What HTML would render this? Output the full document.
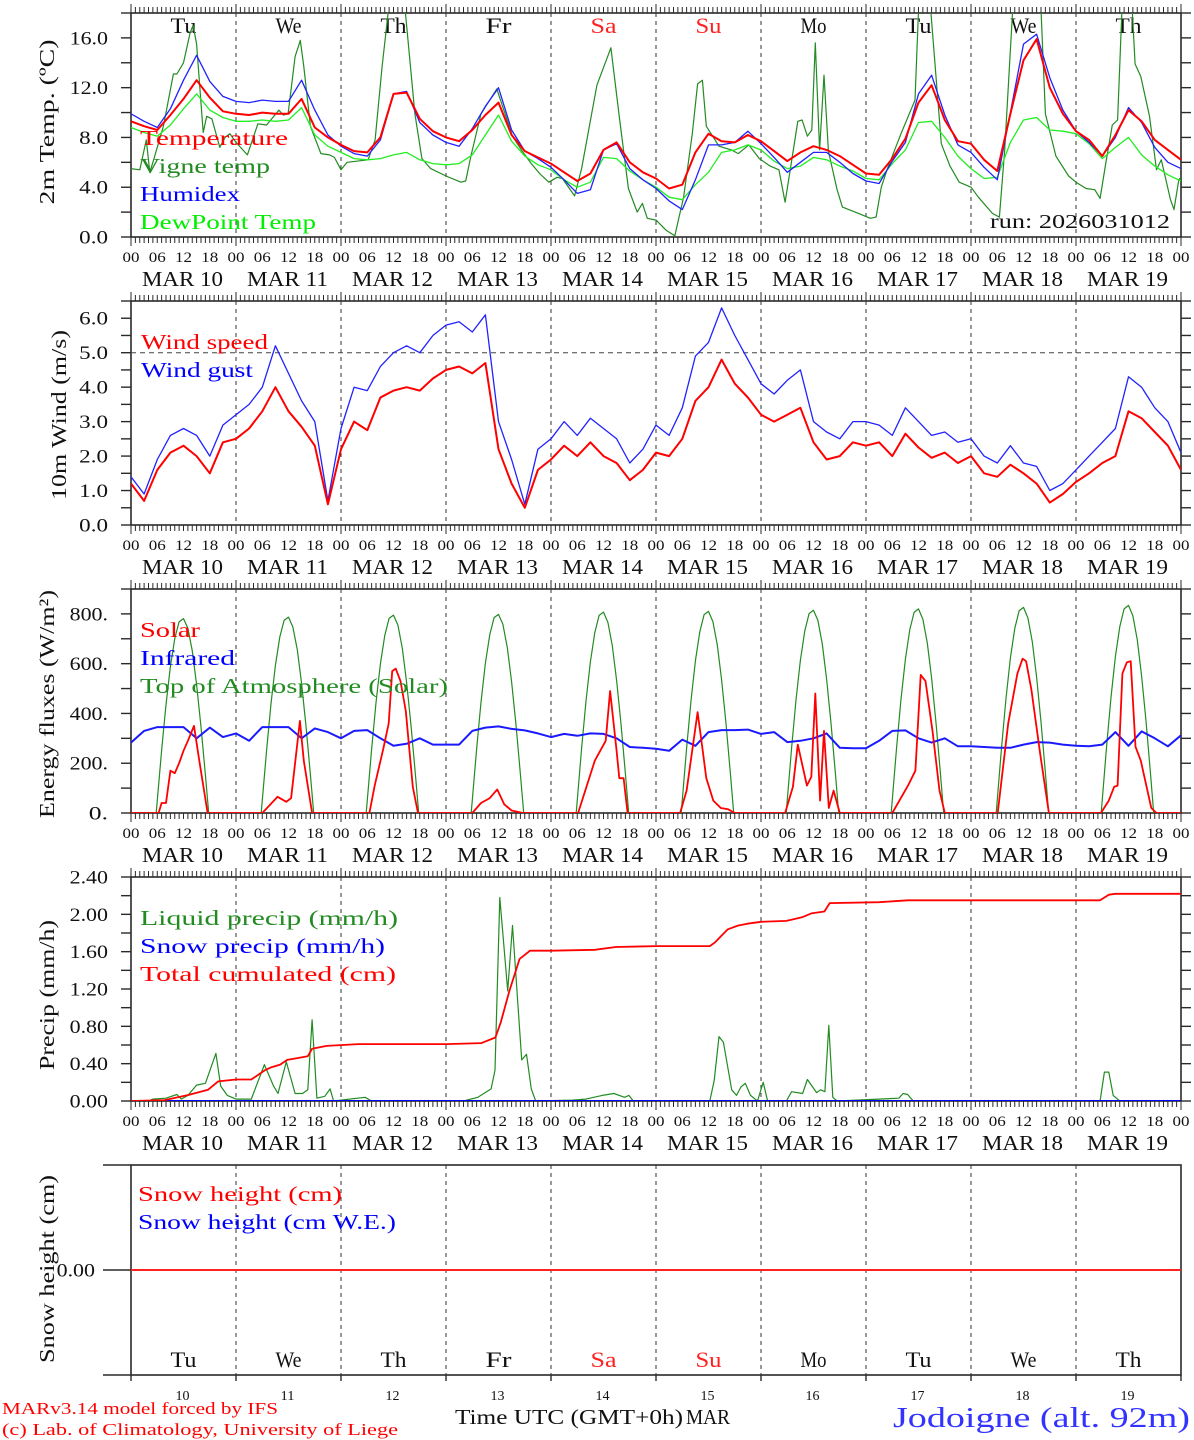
<!DOCTYPE html>
<html><head><meta charset="utf-8"><title>MAR forecast Jodoigne</title>
<style>
html,body{margin:0;padding:0;background:#fff;}
svg{display:block;font-family:"Liberation Serif","DejaVu Serif",serif;}
</style></head>
<body>
<svg id="chart" xmlns="http://www.w3.org/2000/svg" width="1194" height="1440" viewBox="0 0 1194 1440">
<rect x="0" y="0" width="1194" height="1440" fill="#fff"/>
<defs>
<clipPath id="clip-p1"><rect x="131" y="13" width="1050" height="224"/></clipPath>
<clipPath id="clip-p2"><rect x="131" y="301" width="1050" height="224"/></clipPath>
<clipPath id="clip-p3"><rect x="131" y="589" width="1050" height="224"/></clipPath>
<clipPath id="clip-p4"><rect x="131" y="877" width="1050" height="224"/></clipPath>
<clipPath id="clip-p5"><rect x="131" y="1165" width="1050" height="210"/></clipPath>
</defs>
<g id="layer-grid"></g>
<g id="layer-series"></g>
<g id="layer-text">
<text x="140" y="145" fill="#ff0000" font-size="21" textLength="148" lengthAdjust="spacingAndGlyphs">Temperature</text>
<text x="140" y="173" fill="#228b22" font-size="21" textLength="130" lengthAdjust="spacingAndGlyphs">Vigne temp</text>
<text x="140" y="201" fill="#0000ff" font-size="21" textLength="100" lengthAdjust="spacingAndGlyphs">Humidex</text>
<text x="140" y="229" fill="#00ee00" font-size="21" textLength="176" lengthAdjust="spacingAndGlyphs">DewPoint Temp</text>
<text x="990" y="228" fill="#111" font-size="20" textLength="180" lengthAdjust="spacingAndGlyphs">run: 2026031012</text>
<text x="141" y="349" fill="#ff0000" font-size="21" textLength="127" lengthAdjust="spacingAndGlyphs">Wind speed</text>
<text x="141" y="377" fill="#0000ff" font-size="21" textLength="112" lengthAdjust="spacingAndGlyphs">Wind gust</text>
<text x="140" y="637" fill="#ff0000" font-size="21" textLength="60" lengthAdjust="spacingAndGlyphs">Solar</text>
<text x="140" y="665" fill="#0000ff" font-size="21" textLength="95" lengthAdjust="spacingAndGlyphs">Infrared</text>
<text x="140" y="693" fill="#228b22" font-size="21" textLength="308" lengthAdjust="spacingAndGlyphs">Top of Atmosphere (Solar)</text>
<text x="140" y="925" fill="#228b22" font-size="21" textLength="258" lengthAdjust="spacingAndGlyphs">Liquid precip (mm/h)</text>
<text x="140" y="953" fill="#0000ff" font-size="21" textLength="245" lengthAdjust="spacingAndGlyphs">Snow precip (mm/h)</text>
<text x="140" y="981" fill="#ff0000" font-size="21" textLength="256" lengthAdjust="spacingAndGlyphs">Total cumulated (cm)</text>
<text x="138" y="1201" fill="#ff0000" font-size="21" textLength="204" lengthAdjust="spacingAndGlyphs">Snow height (cm)</text>
<text x="138" y="1229" fill="#0000ff" font-size="21" textLength="258" lengthAdjust="spacingAndGlyphs">Snow height (cm W.E.)</text>
<text transform="translate(54,122) rotate(-90)" text-anchor="middle" fill="#111" font-size="21" textLength="165" lengthAdjust="spacingAndGlyphs">2m Temp. (ºC)</text>
<text transform="translate(66,415) rotate(-90)" text-anchor="middle" fill="#111" font-size="21" textLength="170" lengthAdjust="spacingAndGlyphs">10m Wind (m/s)</text>
<text transform="translate(54,704) rotate(-90)" text-anchor="middle" fill="#111" font-size="21" textLength="228" lengthAdjust="spacingAndGlyphs">Energy fluxes (W/m²)</text>
<text transform="translate(54,995) rotate(-90)" text-anchor="middle" fill="#111" font-size="21" textLength="150" lengthAdjust="spacingAndGlyphs">Precip (mm/h)</text>
<text transform="translate(54,1269) rotate(-90)" text-anchor="middle" fill="#111" font-size="21" textLength="188" lengthAdjust="spacingAndGlyphs">Snow height (cm)</text>
<text x="2" y="1414" fill="#ff0000" font-size="17" textLength="276" lengthAdjust="spacingAndGlyphs">MARv3.14 model forced by IFS</text>
<text x="2" y="1435" fill="#ff0000" font-size="17" textLength="396" lengthAdjust="spacingAndGlyphs">(c) Lab. of Climatology, University of Liege</text>
<text x="455" y="1424" fill="#111" font-size="21" textLength="228" lengthAdjust="spacingAndGlyphs">Time UTC (GMT+0h)</text>
<text x="686" y="1424" fill="#111" font-size="21" textLength="44" lengthAdjust="spacingAndGlyphs">MAR</text>
<text x="893" y="1427" fill="#3333ff" font-size="28" textLength="297" lengthAdjust="spacingAndGlyphs">Jodoigne (alt. 92m)</text>
</g>
</svg>
<script>
// ---------- data ----------
const dayNames = ["Tu","We","Th","Fr","Sa","Su","Mo","Tu","We","Th"];
const dayNumbers = ["10","11","12","13","14","15","16","17","18","19"];
const hourTickLabels = ["00","06","12","18"];
const hours3 = [];
for (let h = 0; h <= 240; h += 3) hours3.push(h);

const tempVals = [9.3,8.9,8.6,9.8,11.1,12.6,11.2,10.1, 9.9,9.8,10.0,9.9,9.9,11.1,8.8,8.0, 7.4,6.9,6.8,8.0,11.5,11.6,9.5,8.5, 8.0,7.7,8.6,9.8,10.8,8.2,6.9,6.4, 5.9,5.2,4.5,5.1,7.0,7.6,6.0,5.2, 4.7,3.9,4.2,6.8,8.3,7.7,7.6,8.2, 7.7,6.9,6.1,6.8,7.3,7.0,6.5,5.8, 5.1,5.0,6.3,7.9,10.8,12.2,9.4,7.7, 7.5,6.2,5.3,9.9,14.2,15.9,12.0,9.9, 8.5,7.8,6.5,8.2,10.2,9.3,7.8,7.0,6.2];
const humidexVals = [9.9,9.3,8.8,10.3,12.6,14.6,12.5,11.3, 10.9,10.8,11.0,10.9,10.9,12.6,10.2,8.2, 7.3,6.7,6.5,7.8,11.5,11.7,9.2,8.2, 7.6,7.3,8.7,10.5,12.0,8.6,6.9,6.3, 5.6,4.6,3.5,3.8,7.0,7.5,5.5,4.6, 3.9,2.9,2.2,4.6,7.4,7.4,7.6,8.5, 7.5,6.4,5.2,6.0,6.8,6.8,6.0,5.1, 4.5,4.3,6.1,7.6,11.5,13.0,9.8,7.4, 6.8,5.6,4.6,10.0,15.5,16.3,12.8,10.2, 8.5,7.6,6.5,8.0,10.4,9.2,7.2,6.0,5.5];
const dewpointVals = [8.8,8.4,8.1,9.0,10.3,11.5,10.2,9.6, 9.3,9.3,9.4,9.3,9.4,10.4,8.2,7.3, 6.8,6.3,6.2,6.3,6.6,6.8,6.2,5.9, 5.8,5.9,6.6,8.2,9.8,7.7,6.5,5.8, 5.4,4.6,4.0,4.4,6.4,6.3,5.3,4.6, 4.0,3.2,3.0,4.2,5.2,6.8,7.0,7.4, 7.0,6.1,5.5,5.7,6.4,6.2,5.7,5.3, 4.7,4.6,5.9,7.0,9.2,9.3,8.0,6.5, 5.5,4.7,4.8,7.6,9.4,9.6,8.6,8.5, 8.3,7.5,6.3,7.2,8.0,6.6,5.7,5.0,4.5];
const vigneHours = [0,2,3.5,4.3,5,7.4,9.7,10.5,12,13.5,14.2,15,16.5,17.3,18.5,20.3,21.5,22.6, 24,26.6,29,31,33.8,34.8,35.9,37.5,38.7,39.5,41,43.4,45.4,46.5, 48,49.4,54.2,55.8,57.4,59.4,62.2,64.9,66.5,68.5, 72,75.4,76.5,77.7,80,83.6,87.2,89.2,91.5,93.4,95.5, 97.4,98.6,101.4,103,106.5,109.7,111.7,113.7,115.7,116.9,118, 120,122.3,124.3,126.3,128.3,129.5,130.6,131.5,134.4,137.2,138.8,141.2,143.6, 146.1,148.1,149.5,150.9,152.4,153.4,154.6,155.6,156.4,157.4,158.4,159.4,161.4,162.6,165.5, 169,170.3,171.5,172.8,176,179.2,180.2,182.4,185.2,187.2,189.3, 192,193.7,196.9,198.5,199.7,201.8,207.8,209,211.4,214.3, 216,218.3,220.3,221.5,222.7,224.3,225.5,226.7,228.6,229.5,230.8,232.8,234.4,235.5,237.6,238.4,239.5,240];
const vigneVals = [5.5,5.4,7.8,5.2,6.0,8.9,13.1,13.1,14.0,16.4,17.0,15.5,8.4,9.7,9.5,7.2,8.0,8.3, 7.6,6.6,9.1,9.0,10.2,9.8,9.9,14.5,15.8,13.7,8.9,6.7,6.6,6.4, 5.4,6.0,6.2,7.8,13.7,20,20,9.9,6.3,5.5, 4.9,4.4,4.5,6.5,9.9,11.9,8.1,7.0,5.9,5.1,4.4, 4.8,4.7,3.3,5.5,12.2,15.2,9.4,3.9,2.0,2.7,1.5, 1.36,0.55,0.1,3.2,8.3,12.3,12.6,8.9,7.3,7.0,6.7,7.4,6.3, 5.7,5.4,2.8,5.9,9.3,9.4,8.1,8.6,15.6,7.0,13.0,6.9,3.8,2.4,2.0, 1.5,1.6,4.0,5.4,8.3,11.0,20,20,7.5,5.7,4.4, 4.0,3.2,1.9,1.6,7.0,20,20,9.9,6.5,4.9, 4.4,3.9,3.8,3.1,5.7,9.0,9.4,20,20,13.9,12.9,9.7,5.4,6.2,3.0,2.2,4.6,4.8];

const windSpeedVals = [1.2,0.7,1.6,2.1,2.3,2.0,1.5,2.4, 2.5,2.8,3.3,4.0,3.3,2.85,2.3,0.6, 2.2,3.0,2.75,3.7,3.9,4.0,3.9,4.25, 4.5,4.6,4.4,4.7,2.2,1.2,0.5,1.6, 1.9,2.3,2.0,2.4,2.0,1.8,1.3,1.6, 2.1,2.0,2.5,3.6,4.0,4.8,4.1,3.7, 3.2,3.0,3.2,3.4,2.4,1.9,2.0,2.4, 2.3,2.4,2.0,2.65,2.25,1.95,2.1,1.8, 2.0,1.5,1.4,1.75,1.5,1.2,0.65,0.9, 1.25,1.5,1.8,2.0,3.3,3.1,2.7,2.3,1.6];
const windGustVals = [1.4,0.9,1.9,2.6,2.8,2.6,2.0,2.9, 3.2,3.5,4.0,5.2,4.4,3.6,3.0,0.7, 2.8,4.0,3.9,4.6,5.0,5.2,5.0,5.5, 5.8,5.9,5.6,6.1,3.0,1.9,0.6,2.2, 2.5,3.0,2.6,3.1,2.8,2.5,1.8,2.2, 2.9,2.6,3.4,4.9,5.3,6.3,5.5,4.8, 4.1,3.8,4.2,4.5,3.0,2.7,2.5,3.0, 3.0,2.9,2.6,3.4,3.0,2.6,2.7,2.4, 2.5,2.0,1.8,2.3,1.8,1.7,1.0,1.2, 1.6,2.0,2.4,2.8,4.3,4.0,3.4,3.0,2.1];

const infraredVals = [283,330,345,345,345,300,343,305, 320,290,345,345,345,300,340,325, 300,330,333,300,270,278,300,275, 275,275,330,343,348,338,332,320, 305,318,310,320,318,300,265,262, 258,250,295,270,325,333,333,335, 318,325,285,290,300,320,262,260, 260,290,330,332,300,283,300,268, 268,265,262,262,275,285,283,275, 270,268,275,325,270,328,300,268,312];
const solarHours = [0,6.3,7,8,9,10,11,12,13,14.4,15.6,17.5, 30,33.5,35.5,36.6,38.6,39.5,41.4, 54.5,55.7,57.7,58.9,59.7,60.5,61.6,62.8,64.4,65.6, 78,80,82,83.7,85.3,87,89.6, 102.2,106,108.5,109.5,111,111.6,112.6,113.5, 125.5,127,129.5,130.3,131.5,133.1,134.8,136.5,138, 149.5,151.3,152.4,154.5,155.5,156.4,157.5,158.4,159.5,160.6,162, 174,177.6,179.3,180.5,181.6,183.2,184.8,186, 198.1,200.5,202.6,203.8,204.6,205.8,207.8,209.8, 221.7,223.5,224.7,225.5,226.6,227.6,228.5,229.6,230.8,233.2,234.4,240];
const solarVals = [0,0,40,40,170,160,200,250,290,350,210,0, 0,65,45,60,370,210,0, 0,110,260,360,570,580,530,410,105,0, 0,40,60,95,35,10,0, 0,210,290,490,250,140,140,0, 0,90,405,300,140,50,20,15,0, 0,105,275,110,145,480,50,330,20,90,0, 0,110,170,555,530,330,90,0, 0,360,560,620,610,495,240,0, 0,50,105,110,560,605,610,266,210,20,0,0];
const toaHoursOfDay = [5.75,7,8,9,10,11,12,13,14,15,16,17,17.75];
const toaDay1 = [0,251,435,589,702,768,781,742,651,516,346,153,0];
const toaDay2 = [0,252,439,593,707,774,787,747,656,520,349,154,0];
const toaDay3 = [0,255,443,599,714,782,795,755,662,525,352,155,0];
const toaDay4 = [0,256,445,602,717,785,798,758,665,527,354,156,0];
const toaDay5 = [0,259,450,608,725,794,807,766,672,533,358,158,0];
const toaDay6 = [0,260,451,611,728,797,810,769,675,535,359,158,0];
const toaDay7 = [0,261,454,614,732,801,815,774,679,538,361,159,0];
const toaDay8 = [0,263,457,618,737,806,820,778,683,542,363,160,0];
const toaDay9 = [0,265,460,623,742,812,826,784,688,546,366,161,0];
const toaDay10 = [0,268,465,629,749,820,834,792,695,551,370,163,0];

const liqHours = [0,4,5,8,10.5,11.5,13,15,17,19.4,20.5,22,24, 27.5,30.5,32.6,33.6,35.5,37.5,39.2,40.4,41.4,42.5,44.3,45.5,46.3, 53.5,55, 76,79.3,82.3,83.2,84.3,86.1,87.2,89.3,90.4,91.5,92.5, 101,104,107.7,110.4,112.8,113.8,114.8, 132.3,133.3,134.4,135.4,137.3,138.4,139.4,140.4,141.6,143.2,144.5,145.5, 149.8,151,153.5,154.6,156.7,157.6,158.6,159.5,160.4,161.4, 171,175.5,176.5,177.5,178.8, 221.5,222.5,223.5,224.5,226,240];
const liqVals = [0,0,0.02,0.03,0.07,0.02,0.06,0.17,0.19,0.51,0.16,0.06,0.02, 0.02,0.39,0.16,0.08,0.42,0.08,0.08,0.12,0.87,0.03,0.05,0.13,0, 0.04,0, 0,0.04,0.13,0.33,2.18,1.18,1.88,0.44,0.5,0.13,0, 0.01,0.02,0.06,0.08,0.04,0.06,0, 0,0.22,0.69,0.63,0.12,0.06,0.15,0.19,0.06,0,0.2,0, 0,0.1,0.08,0.23,0.09,0.12,0.1,0.81,0.04,0, 0.02,0.03,0.08,0.07,0, 0,0.31,0.31,0.06,0,0];
const cumHours = [0,7.7,13.2,17.6,19.9,24,27.5,30.6,32,34.1,35.7,38,40.4,41.4,44.7,52,72,80.1,83.3,84.5,86.5,88.8,91.2,96,106,110.8,120,132.3,133.5,136.4,138.8,140.9,144,149.8,153.5,155.5,158.5,159.7,171,177.5,221.5,223.5,225,240];
const cumVals = [0,0.01,0.065,0.12,0.21,0.23,0.23,0.33,0.36,0.39,0.44,0.46,0.48,0.56,0.59,0.61,0.61,0.62,0.68,0.84,1.18,1.52,1.61,1.61,1.62,1.65,1.66,1.66,1.70,1.84,1.88,1.90,1.92,1.93,1.97,2.01,2.03,2.12,2.13,2.15,2.15,2.21,2.22,2.22];
const snowPrecipHours = [0,240];
const snowPrecipVals = [0,0];
const snowHeightHours = [0,240];
const snowHeightVals = [0,0];
const snowWEVals = [0,0];

// ---------- geometry ----------
const NS = "http://www.w3.org/2000/svg";
const X0 = 131, X1 = 1181;
function xs(h){ return X0 + h * (X1 - X0) / 240; }
function mkPanel(id, top, bottom, min, max){
  return {id, top, bottom, min, max, y: v => bottom - (v - min) * (bottom - top) / (max - min)};
}
const P1 = mkPanel("p1", 13, 237, 0, 18);
const P2 = mkPanel("p2", 301, 525, 0, 6.5);
const P3 = mkPanel("p3", 589, 813, 0, 900);
const P4 = mkPanel("p4", 877, 1101, 0, 2.4);
const P5 = mkPanel("p5", 1165, 1375, -1, 1);

const grid = document.getElementById("layer-grid");
const series = document.getElementById("layer-series");
const AX = "#2a2a2a";

function mk(tag, attrs, parent){
  const el = document.createElementNS(NS, tag);
  for (const k in attrs) el.setAttribute(k, attrs[k]);
  (parent || grid).appendChild(el);
  return el;
}
function txt(x, y, s, size, anchor, color, len){
  const el = mk("text", {x:x, y:y, "font-size":size, "text-anchor":anchor, fill:color});
  if (len) { el.setAttribute("textLength", len); el.setAttribute("lengthAdjust", "spacingAndGlyphs"); }
  el.textContent = s;
  return el;
}

function drawPanel(P, majors, minorStep, fmt, hourly, labelX){
  let el = mk("rect", {x:X0, y:P.top, width:X1-X0, height:P.bottom-P.top, fill:"none", stroke:AX, "stroke-width":1.6});
  
  
  for (let d = 1; d < 10; d++) {
    el = mk("line", {x1:xs(d*24), x2:xs(d*24), y1:P.top, y2:P.bottom, stroke:"#333", "stroke-width":1, "stroke-dasharray":"4,4"});
    
    
  }
  if (minorStep) {
    for (let v = P.min; v <= P.max + 1e-9; v += minorStep) {
      const y = P.y(v);
      el = mk("line", {x1:X0-10, x2:X0, y1:y, y2:y, stroke:AX, "stroke-width":1.4});
      
      
      el = mk("line", {x1:X1, x2:X1+10, y1:y, y2:y, stroke:AX, "stroke-width":1.4});
      
      
    }
  }
  majors.forEach(v => {
    const y = P.y(v);
    const t = txt(labelX, y + 6.5, fmt(v), 19, "end", "#111", fmt(v).length * 9.6);
    
    
  });
  if (hourly) {
    for (let h = 0; h <= 240; h++) {
      const len = (h % 24 === 0) ? 9 : 6;
      el = mk("line", {x1:xs(h), x2:xs(h), y1:P.top-len, y2:P.top, stroke:AX, "stroke-width":1});
      
      
      el = mk("line", {x1:xs(h), x2:xs(h), y1:P.bottom, y2:P.bottom+len, stroke:AX, "stroke-width":1});
      
      
    }
    for (let d = 0; d < 10; d++) {
      hourTickLabels.forEach((lab, i) => {
        const t = txt(xs(d*24 + i*6), P.bottom + 25, lab, 15, "middle", "#111", 17);
        
        
      });
      const m = txt(xs(d*24 + 12) - 1, P.bottom + 49, "MAR " + dayNumbers[d], 21, "middle", "#111", 81);
      
      
    }
    const t = txt(xs(240), P.bottom + 25, "00", 15, "middle", "#111", 17);
    
    
  }
}

const f1 = v => v.toFixed(1);
drawPanel(P1, [0,4,8,12,16], 2, f1, true, 108);
drawPanel(P2, [0,1,2,3,4,5,6], 0.5, f1, true, 108);
drawPanel(P3, [0,200,400,600,800], 100, v => v.toFixed(0) + ".", true, 108);
drawPanel(P4, [0,0.4,0.8,1.2,1.6,2.0,2.4], 0.2, v => v.toFixed(2), true, 108);
drawPanel(P5, [0], null, v => v.toFixed(2), false, 95);
let e = mk("line", {x1:103, x2:X0, y1:P5.y(0), y2:P5.y(0), stroke:AX, "stroke-width":1.4});


e = mk("line", {x1:103, x2:X0, y1:P5.top, y2:P5.top, stroke:AX, "stroke-width":1.4});


e = mk("line", {x1:103, x2:X0, y1:P5.bottom, y2:P5.bottom, stroke:AX, "stroke-width":1.4});


for (let d = 0; d <= 10; d++) {
  e = mk("line", {x1:xs(d*24), x2:xs(d*24), y1:P5.bottom, y2:P5.bottom+6, stroke:AX, "stroke-width":1.4});
  
  
}
e = mk("line", {x1:X0, x2:X1, y1:P2.y(5), y2:P2.y(5), stroke:"#444", "stroke-width":1, "stroke-dasharray":"5,4"});



for (let d = 0; d < 10; d++) {
  const col = (dayNames[d] === "Sa" || dayNames[d] === "Su") ? "#ff2020" : "#111";
  let t = txt(xs(d*24 + 12), 33, dayNames[d], 22, "middle", col, 26);
  
  
  t = txt(xs(d*24 + 12), 1367, dayNames[d], 22, "middle", col, 26);
  
  
  t = txt(xs(d*24 + 12) - 1, 1400, dayNumbers[d], 14, "middle", "#111", 14);
  
  
}

// ---------- series ----------
function line(P, hs, vs, color, width, name){
  const pts = hs.map((h, i) => xs(h).toFixed(1) + "," + P.y(vs[i]).toFixed(1)).join(" ");
  const el = mk("polyline", {points:pts, fill:"none", stroke:color, "stroke-width":width, "stroke-linejoin":"round", "clip-path":"url(#clip-" + P.id + ")"}, series);
  
  
  return el;
}
line(P1, vigneHours, vigneVals, "#228b22", 1.2, "vigne-temp-line");
line(P1, hours3, dewpointVals, "#22ee22", 1.3, "dewpoint-line");
line(P1, hours3, humidexVals, "#2222ff", 1.3, "humidex-line");
line(P1, hours3, tempVals, "#ff0000", 2, "temperature-line");

line(P2, hours3, windGustVals, "#2222ff", 1.3, "wind-gust-line");
line(P2, hours3, windSpeedVals, "#ff0000", 2, "wind-speed-line");

const toaDays = [toaDay1,toaDay2,toaDay3,toaDay4,toaDay5,toaDay6,toaDay7,toaDay8,toaDay9,toaDay10];
toaDays.forEach((vals, d) => {
  line(P3, toaHoursOfDay.map(h => h + d*24), vals, "#228b22", 1.2, "toa-solar-day-" + (d+1));
});
line(P3, [0,5.75], [0,0], "#228b22", 1.2, "toa-solar-night");
line(P3, hours3, infraredVals, "#1a1aff", 2, "infrared-line");
line(P3, solarHours, solarVals, "#ff0000", 1.8, "solar-line");

line(P4, liqHours, liqVals, "#228b22", 1.2, "liquid-precip-line");
line(P4, snowPrecipHours, snowPrecipVals, "#0000ff", 2, "snow-precip-line");
line(P4, cumHours, cumVals, "#ff0000", 1.8, "total-cumulated-line");

line(P5, snowHeightHours, snowWEVals, "#0000ff", 2, "snow-height-we-line");
line(P5, snowHeightHours, snowHeightVals, "#ff2020", 2, "snow-height-line");
</script>
</body></html>
